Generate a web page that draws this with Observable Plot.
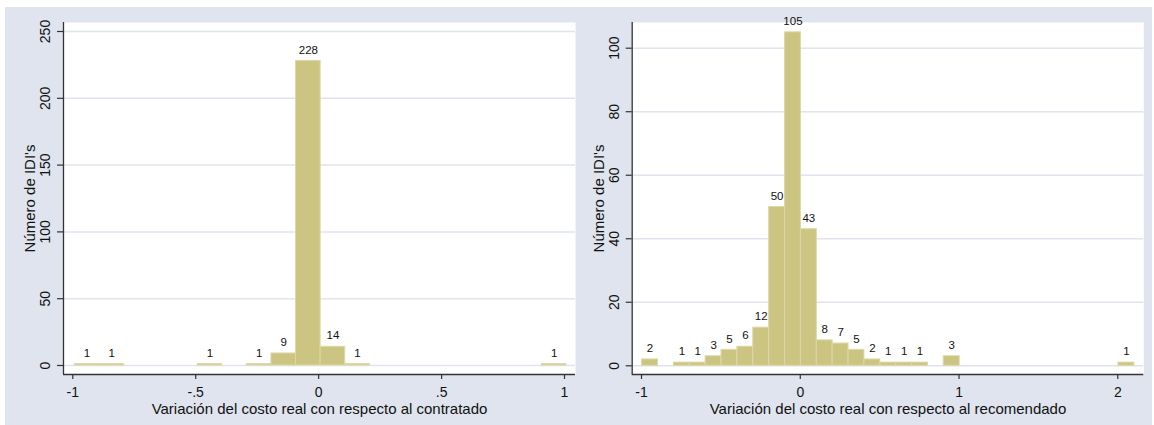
<!DOCTYPE html>
<html><head><meta charset="utf-8">
<script src="https://cdn.jsdelivr.net/npm/d3@7"></script>
<script src="https://cdn.jsdelivr.net/npm/@observablehq/plot@0.6"></script>
<style>
html,body{margin:0;padding:0;background:#fff;width:1154px;height:425px;overflow:hidden;}
#wrap{position:absolute;left:5px;top:7px;width:1147px;height:418px;background:#dfe4ee;}
#left{position:absolute;left:0;top:0;}
#right{position:absolute;left:572px;top:0;}
svg{display:block;}
</style></head><body>
<div id="wrap"><div id="left"></div><div id="right"></div></div>
<script>
// ---- Left panel data (histogram: bin lower edges and counts) ----
const leftBinStart = [-0.992, -0.892, -0.492, -0.292, -0.192, -0.092, 0.008, 0.108, 0.908];
const leftCounts   = [1, 1, 1, 1, 9, 228, 14, 1, 1];
const leftBinWidth = 0.1;
const leftYTicks = [0, 50, 100, 150, 200, 250];
const leftXTicks = [-1, -0.5, 0, 0.5, 1];
const leftXTickLabels = ["-1", "-.5", "0", ".5", "1"];
const leftXTitle = "Variación del costo real con respecto al contratado";

// ---- Right panel data ----
const rightBinStart = [-0.996, -0.796, -0.696, -0.596, -0.496, -0.396, -0.296, -0.196, -0.096, 0.004, 0.104, 0.204, 0.304, 0.404, 0.504, 0.604, 0.704, 0.904, 2.004];
const rightCounts   = [2, 1, 1, 3, 5, 6, 12, 50, 105, 43, 8, 7, 5, 2, 1, 1, 1, 3, 1];
const rightBinWidth = 0.1;
const rightYTicks = [0, 20, 40, 60, 80, 100];
const rightXTicks = [-1, 0, 1, 2];
const rightXTickLabels = ["-1", "0", "1", "2"];
const rightXTitle = "Variación del costo real con respecto al recomendado";

const yTitle = "Número de IDI's";

const FONT = "'Liberation Sans', Arial, Helvetica, sans-serif";
const GRID = "#dfe4ee";
const BAR_FILL = "#ccc581";
const BAR_STROKE = "#dcd7a6";
const AXIS = "#333333";

function panel(o) {
  const bars = o.starts.map((s, i) => ({x1: s, x2: s + o.binWidth, n: o.counts[i]}));
  return Plot.plot({
    width: o.svgWidth, height: o.svgHeight,
    marginLeft: o.mLeft, marginRight: o.mRight, marginTop: o.mTop, marginBottom: o.mBottom,
    style: {background: "transparent", fontFamily: FONT, overflow: "visible"},
    x: {domain: o.xDomain, axis: null},
    y: {domain: o.yDomain, axis: null},
    marks: [
      Plot.frame({fill: "white", stroke: null}),
      Plot.ruleY(o.yTicks, {stroke: GRID, strokeWidth: 1.5}),
      Plot.rect(bars, {x1: "x1", x2: "x2", y1: 0, y2: "n", fill: BAR_FILL, stroke: BAR_STROKE, strokeWidth: 1}),
      Plot.text(bars, {x: d => (d.x1 + d.x2) / 2, y: "n", text: d => String(d.n), dy: -11, fontSize: 11.5, fill: "#111"}),
      Plot.ruleX([o.xDomain[0]], {stroke: AXIS, strokeWidth: 1.3}),
      Plot.ruleY([o.yDomain[0]], {stroke: AXIS, strokeWidth: 1.3}),
      Plot.axisY({ticks: o.yTicks, tickSize: 6, tickFormat: () => "", label: null, stroke: AXIS, strokeWidth: 1.2}),
      Plot.axisX({ticks: o.xTicks, tickSize: 5, tickFormat: () => "", label: null, stroke: AXIS, strokeWidth: 1.2}),
      Plot.text(o.yTicks, {y: d => d, text: d => String(d), frameAnchor: "left", textAnchor: "middle", lineAnchor: "middle", dx: -18, rotate: -90, fontSize: 14, fill: "#111"}),
      Plot.text(o.xTicks, {x: d => d, text: (d, i) => o.xTickLabels[i], frameAnchor: "bottom", textAnchor: "middle", lineAnchor: "middle", dy: 17.7, fontSize: 14, fill: "#111"}),
      Plot.text([yTitle], {text: d => d, frameAnchor: "left", textAnchor: "middle", lineAnchor: "middle", dx: -33, rotate: -90, fontSize: 15, fill: "#111"}),
      Plot.text([o.xTitle], {text: d => d, frameAnchor: "bottom", textAnchor: "middle", lineAnchor: "middle", dy: 35, fontSize: 15, fill: "#111"})
    ]
  });
}

document.getElementById("left").appendChild(panel({
  starts: leftBinStart, counts: leftCounts, binWidth: leftBinWidth,
  yTicks: leftYTicks, xTicks: leftXTicks, xTickLabels: leftXTickLabels, xTitle: leftXTitle,
  xDomain: [-1.0378, 1.0447], yDomain: [-6.74, 256.74],
  svgWidth: 572, svgHeight: 418, mLeft: 58, mRight: 2, mTop: 15, mBottom: 51
}));

document.getElementById("right").appendChild(panel({
  starts: rightBinStart, counts: rightCounts, binWidth: rightBinWidth,
  yTicks: rightYTicks, xTicks: rightXTicks, xTickLabels: rightXTickLabels, xTitle: rightXTitle,
  xDomain: [-1.0586, 2.1638], yDomain: [-2.74, 108.09],
  svgWidth: 575, svgHeight: 418, mLeft: 54.7, mRight: 8.7, mTop: 15, mBottom: 51
}));
</script>
</body></html>
